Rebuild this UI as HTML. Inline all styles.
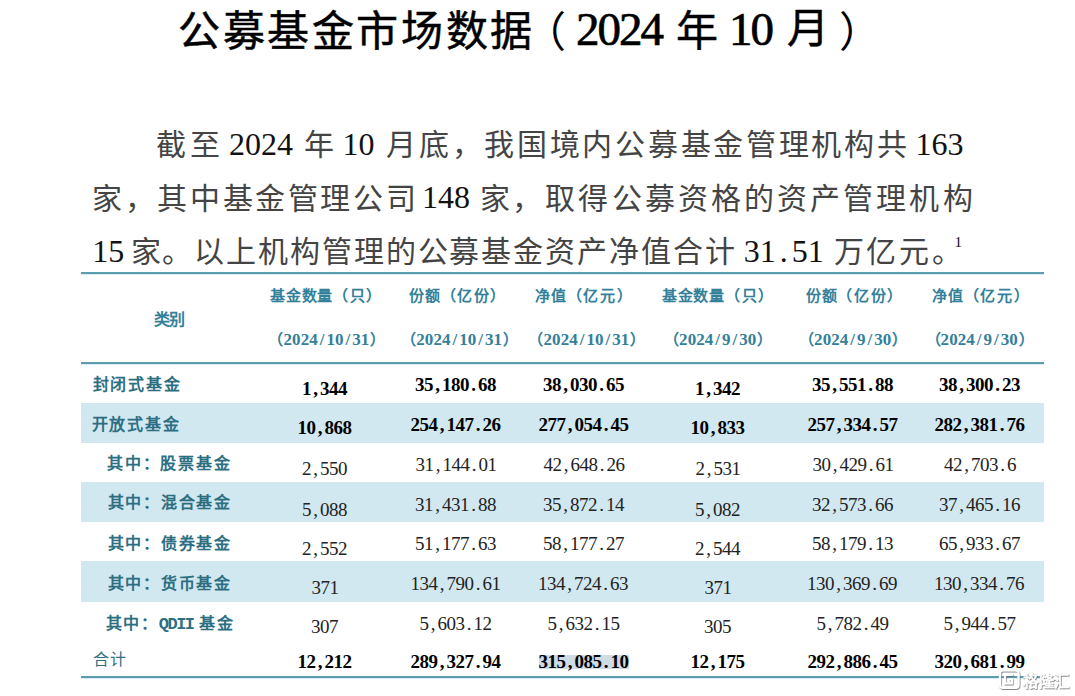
<!DOCTYPE html>
<html lang="zh-CN"><head><meta charset="utf-8"><title>公募基金市场数据</title>
<style>html,body{margin:0;padding:0;background:#fff;} body{width:1075px;height:696px;position:relative;overflow:hidden;}</style>
</head><body>
<div style="position:absolute;left:81px;top:403px;width:963px;height:40px;background:#d2e8f0"></div>
<div style="position:absolute;left:81px;top:482px;width:963px;height:40px;background:#d2e8f0"></div>
<div style="position:absolute;left:81px;top:561px;width:963px;height:41px;background:#d2e8f0"></div>
<div style="position:absolute;left:81px;top:272px;width:963px;height:2px;background:#5d9bb0;box-shadow:0 1px 0 #d6edf3"></div>
<div style="position:absolute;left:81px;top:362px;width:963px;height:2px;background:#5d9bb0;box-shadow:0 1px 0 #d6edf3"></div>
<div style="position:absolute;left:81px;top:676px;width:963px;height:2px;background:#5d9bb0;box-shadow:0 1px 0 #d6edf3"></div>
<div style="position:absolute;left:539px;top:655px;width:90px;height:14px;background:#d0dce4"></div>
<div style="position:absolute;left:178.0px;top:11.0px;font-family:'Liberation Serif', serif;font-size:42px;line-height:1;white-space:pre;font-weight:normal;color:#000;letter-spacing:2.6px;-webkit-text-stroke:0.5px #000;">公募基金市场数据</div>
<div style="position:absolute;left:524.0px;top:11.7px;font-family:'Liberation Serif', serif;font-size:42px;line-height:1;white-space:pre;font-weight:normal;color:#000;letter-spacing:0px;">（</div>
<div style="position:absolute;left:576.0px;top:5.8px;font-family:'Liberation Serif', serif;font-size:47px;line-height:1;white-space:pre;font-weight:normal;color:#000;letter-spacing:0px;-webkit-text-stroke:0.7px #000;"><i style="display:inline-block;width:21.5px;text-align:center;font-style:normal;letter-spacing:0;font-size:47px;font-weight:normal;">2</i><i style="display:inline-block;width:21.5px;text-align:center;font-style:normal;letter-spacing:0;font-size:47px;font-weight:normal;">0</i><i style="display:inline-block;width:21.5px;text-align:center;font-style:normal;letter-spacing:0;font-size:47px;font-weight:normal;">2</i><i style="display:inline-block;width:21.5px;text-align:center;font-style:normal;letter-spacing:0;font-size:47px;font-weight:normal;">4</i></div>
<div style="position:absolute;left:676.0px;top:11.0px;font-family:'Liberation Serif', serif;font-size:42px;line-height:1;white-space:pre;font-weight:normal;color:#000;letter-spacing:0px;-webkit-text-stroke:0.5px #000;">年</div>
<div style="position:absolute;left:729.0px;top:5.8px;font-family:'Liberation Serif', serif;font-size:47px;line-height:1;white-space:pre;font-weight:normal;color:#000;letter-spacing:0px;-webkit-text-stroke:0.7px #000;"><i style="display:inline-block;width:21.5px;text-align:center;font-style:normal;letter-spacing:0;font-size:47px;font-weight:normal;">1</i><i style="display:inline-block;width:21.5px;text-align:center;font-style:normal;letter-spacing:0;font-size:47px;font-weight:normal;">0</i></div>
<div style="position:absolute;left:787.0px;top:8.0px;font-family:'Liberation Serif', serif;font-size:42px;line-height:1;white-space:pre;font-weight:normal;color:#000;letter-spacing:0px;-webkit-text-stroke:0.5px #000;">月</div>
<div style="position:absolute;left:839.0px;top:11.7px;font-family:'Liberation Serif', serif;font-size:42px;line-height:1;white-space:pre;font-weight:normal;color:#000;letter-spacing:0px;">）</div>
<div style="position:absolute;left:156.4px;top:129.5px;font-family:'Liberation Serif', serif;font-size:30px;line-height:1;white-space:pre;font-weight:normal;color:#444;letter-spacing:3.3000000000000003px;">截至</div>
<div style="position:absolute;left:229.0px;top:128.0px;font-family:'Liberation Serif', serif;font-size:32px;line-height:1;white-space:pre;font-weight:normal;color:#000;letter-spacing:0px;"><i style="display:inline-block;width:16px;text-align:center;font-style:normal;letter-spacing:0;font-size:32px;color:#111;">2</i><i style="display:inline-block;width:16px;text-align:center;font-style:normal;letter-spacing:0;font-size:32px;color:#111;">0</i><i style="display:inline-block;width:16px;text-align:center;font-style:normal;letter-spacing:0;font-size:32px;color:#111;">2</i><i style="display:inline-block;width:16px;text-align:center;font-style:normal;letter-spacing:0;font-size:32px;color:#111;">4</i></div>
<div style="position:absolute;left:303.8px;top:129.6px;font-family:'Liberation Serif', serif;font-size:30px;line-height:1;white-space:pre;font-weight:normal;color:#444;letter-spacing:0px;">年</div>
<div style="position:absolute;left:342.4px;top:128.0px;font-family:'Liberation Serif', serif;font-size:32px;line-height:1;white-space:pre;font-weight:normal;color:#000;letter-spacing:0px;"><i style="display:inline-block;width:16px;text-align:center;font-style:normal;letter-spacing:0;font-size:32px;color:#111;">1</i><i style="display:inline-block;width:16px;text-align:center;font-style:normal;letter-spacing:0;font-size:32px;color:#111;">0</i></div>
<div style="position:absolute;left:386.3px;top:129.5px;font-family:'Liberation Serif', serif;font-size:30px;line-height:1;white-space:pre;font-weight:normal;color:#444;letter-spacing:2.7px;">月底，我国境内公募基金管理机构共</div>
<div style="position:absolute;left:915.5px;top:128.0px;font-family:'Liberation Serif', serif;font-size:32px;line-height:1;white-space:pre;font-weight:normal;color:#000;letter-spacing:0px;"><i style="display:inline-block;width:16px;text-align:center;font-style:normal;letter-spacing:0;font-size:32px;color:#111;">1</i><i style="display:inline-block;width:16px;text-align:center;font-style:normal;letter-spacing:0;font-size:32px;color:#111;">6</i><i style="display:inline-block;width:16px;text-align:center;font-style:normal;letter-spacing:0;font-size:32px;color:#111;">3</i></div>
<div style="position:absolute;left:92.2px;top:184.3px;font-family:'Liberation Serif', serif;font-size:30px;line-height:1;white-space:pre;font-weight:normal;color:#444;letter-spacing:2.6px;">家，其中基金管理公司</div>
<div style="position:absolute;left:422.0px;top:181.0px;font-family:'Liberation Serif', serif;font-size:32px;line-height:1;white-space:pre;font-weight:normal;color:#000;letter-spacing:0px;"><i style="display:inline-block;width:16px;text-align:center;font-style:normal;letter-spacing:0;font-size:32px;color:#111;">1</i><i style="display:inline-block;width:16px;text-align:center;font-style:normal;letter-spacing:0;font-size:32px;color:#111;">4</i><i style="display:inline-block;width:16px;text-align:center;font-style:normal;letter-spacing:0;font-size:32px;color:#111;">8</i></div>
<div style="position:absolute;left:480.0px;top:184.3px;font-family:'Liberation Serif', serif;font-size:30px;line-height:1;white-space:pre;font-weight:normal;color:#444;letter-spacing:2.2px;">家，</div>
<div style="position:absolute;left:545.4px;top:184.3px;font-family:'Liberation Serif', serif;font-size:30px;line-height:1;white-space:pre;font-weight:normal;color:#444;letter-spacing:3.1px;">取得公募资格的资产管理机构</div>
<div style="position:absolute;left:92.2px;top:235.3px;font-family:'Liberation Serif', serif;font-size:32px;line-height:1;white-space:pre;font-weight:normal;color:#000;letter-spacing:0px;"><i style="display:inline-block;width:16px;text-align:center;font-style:normal;letter-spacing:0;font-size:32px;color:#111;">1</i><i style="display:inline-block;width:16px;text-align:center;font-style:normal;letter-spacing:0;font-size:32px;color:#111;">5</i></div>
<div style="position:absolute;left:130.5px;top:236.5px;font-family:'Liberation Serif', serif;font-size:30px;line-height:1;white-space:pre;font-weight:normal;color:#444;letter-spacing:1.9000000000000001px;">家。以上机构管理的公募基金资产净值合计</div>
<div style="position:absolute;left:743.8px;top:235.3px;font-family:'Liberation Serif', serif;font-size:32px;line-height:1;white-space:pre;font-weight:normal;color:#000;letter-spacing:0px;"><i style="display:inline-block;width:16px;text-align:center;font-style:normal;letter-spacing:0;font-size:32px;color:#111;">3</i><i style="display:inline-block;width:16px;text-align:center;font-style:normal;letter-spacing:0;font-size:32px;color:#111;">1</i><i style="display:inline-block;width:16px;text-align:center;font-style:normal;letter-spacing:0;font-size:32px;color:#111;">.</i><i style="display:inline-block;width:16px;text-align:center;font-style:normal;letter-spacing:0;font-size:32px;color:#111;">5</i><i style="display:inline-block;width:16px;text-align:center;font-style:normal;letter-spacing:0;font-size:32px;color:#111;">1</i></div>
<div style="position:absolute;left:833.5px;top:236.5px;font-family:'Liberation Serif', serif;font-size:30px;line-height:1;white-space:pre;font-weight:normal;color:#444;letter-spacing:2.8000000000000003px;">万亿元。</div>
<div style="position:absolute;left:954.5px;top:234.8px;font-family:'Liberation Serif', serif;font-size:15px;line-height:1;white-space:pre;font-weight:normal;color:#111;letter-spacing:0px;">1</div>
<div style="position:absolute;left:154.0px;top:311.5px;font-family:'Liberation Serif', serif;font-size:16px;line-height:1;white-space:pre;font-weight:bold;color:#33809a;letter-spacing:-1px;">类别</div>
<div style="position:absolute;left:270.0px;top:289.4px;font-family:'Liberation Serif', serif;font-size:15px;line-height:1;white-space:pre;font-weight:bold;color:#33809a;letter-spacing:0.8px;">基金数量<span style="letter-spacing:1.6px">（只）</span></div>
<div style="position:absolute;left:268.4px;top:330.9px;font-family:'Liberation Serif', serif;font-size:15px;line-height:1;white-space:pre;font-weight:bold;color:#33809a;letter-spacing:0px;">（<i style="display:inline-block;width:8.6px;text-align:center;font-style:normal;letter-spacing:0;font-size:17px;font-weight:bold;">2</i><i style="display:inline-block;width:8.6px;text-align:center;font-style:normal;letter-spacing:0;font-size:17px;font-weight:bold;">0</i><i style="display:inline-block;width:8.6px;text-align:center;font-style:normal;letter-spacing:0;font-size:17px;font-weight:bold;">2</i><i style="display:inline-block;width:8.6px;text-align:center;font-style:normal;letter-spacing:0;font-size:17px;font-weight:bold;">4</i><i style="display:inline-block;width:8.6px;text-align:center;font-style:normal;letter-spacing:0;font-size:17px;font-weight:bold;">/</i><i style="display:inline-block;width:8.6px;text-align:center;font-style:normal;letter-spacing:0;font-size:17px;font-weight:bold;">1</i><i style="display:inline-block;width:8.6px;text-align:center;font-style:normal;letter-spacing:0;font-size:17px;font-weight:bold;">0</i><i style="display:inline-block;width:8.6px;text-align:center;font-style:normal;letter-spacing:0;font-size:17px;font-weight:bold;">/</i><i style="display:inline-block;width:8.6px;text-align:center;font-style:normal;letter-spacing:0;font-size:17px;font-weight:bold;">3</i><i style="display:inline-block;width:8.6px;text-align:center;font-style:normal;letter-spacing:0;font-size:17px;font-weight:bold;">1</i><span style="margin-left:1px">）</span></div>
<div style="position:absolute;left:409.0px;top:289.4px;font-family:'Liberation Serif', serif;font-size:15px;line-height:1;white-space:pre;font-weight:bold;color:#33809a;letter-spacing:0.8px;">份额<span style="letter-spacing:1.6px">（亿份）</span></div>
<div style="position:absolute;left:401.2px;top:330.9px;font-family:'Liberation Serif', serif;font-size:15px;line-height:1;white-space:pre;font-weight:bold;color:#33809a;letter-spacing:0px;">（<i style="display:inline-block;width:8.6px;text-align:center;font-style:normal;letter-spacing:0;font-size:17px;font-weight:bold;">2</i><i style="display:inline-block;width:8.6px;text-align:center;font-style:normal;letter-spacing:0;font-size:17px;font-weight:bold;">0</i><i style="display:inline-block;width:8.6px;text-align:center;font-style:normal;letter-spacing:0;font-size:17px;font-weight:bold;">2</i><i style="display:inline-block;width:8.6px;text-align:center;font-style:normal;letter-spacing:0;font-size:17px;font-weight:bold;">4</i><i style="display:inline-block;width:8.6px;text-align:center;font-style:normal;letter-spacing:0;font-size:17px;font-weight:bold;">/</i><i style="display:inline-block;width:8.6px;text-align:center;font-style:normal;letter-spacing:0;font-size:17px;font-weight:bold;">1</i><i style="display:inline-block;width:8.6px;text-align:center;font-style:normal;letter-spacing:0;font-size:17px;font-weight:bold;">0</i><i style="display:inline-block;width:8.6px;text-align:center;font-style:normal;letter-spacing:0;font-size:17px;font-weight:bold;">/</i><i style="display:inline-block;width:8.6px;text-align:center;font-style:normal;letter-spacing:0;font-size:17px;font-weight:bold;">3</i><i style="display:inline-block;width:8.6px;text-align:center;font-style:normal;letter-spacing:0;font-size:17px;font-weight:bold;">1</i><span style="margin-left:1px">）</span></div>
<div style="position:absolute;left:535.2px;top:289.4px;font-family:'Liberation Serif', serif;font-size:15px;line-height:1;white-space:pre;font-weight:bold;color:#33809a;letter-spacing:0.8px;">净值<span style="letter-spacing:1.6px">（亿元）</span></div>
<div style="position:absolute;left:528.4px;top:330.9px;font-family:'Liberation Serif', serif;font-size:15px;line-height:1;white-space:pre;font-weight:bold;color:#33809a;letter-spacing:0px;">（<i style="display:inline-block;width:8.6px;text-align:center;font-style:normal;letter-spacing:0;font-size:17px;font-weight:bold;">2</i><i style="display:inline-block;width:8.6px;text-align:center;font-style:normal;letter-spacing:0;font-size:17px;font-weight:bold;">0</i><i style="display:inline-block;width:8.6px;text-align:center;font-style:normal;letter-spacing:0;font-size:17px;font-weight:bold;">2</i><i style="display:inline-block;width:8.6px;text-align:center;font-style:normal;letter-spacing:0;font-size:17px;font-weight:bold;">4</i><i style="display:inline-block;width:8.6px;text-align:center;font-style:normal;letter-spacing:0;font-size:17px;font-weight:bold;">/</i><i style="display:inline-block;width:8.6px;text-align:center;font-style:normal;letter-spacing:0;font-size:17px;font-weight:bold;">1</i><i style="display:inline-block;width:8.6px;text-align:center;font-style:normal;letter-spacing:0;font-size:17px;font-weight:bold;">0</i><i style="display:inline-block;width:8.6px;text-align:center;font-style:normal;letter-spacing:0;font-size:17px;font-weight:bold;">/</i><i style="display:inline-block;width:8.6px;text-align:center;font-style:normal;letter-spacing:0;font-size:17px;font-weight:bold;">3</i><i style="display:inline-block;width:8.6px;text-align:center;font-style:normal;letter-spacing:0;font-size:17px;font-weight:bold;">1</i><span style="margin-left:1px">）</span></div>
<div style="position:absolute;left:661.8px;top:289.4px;font-family:'Liberation Serif', serif;font-size:15px;line-height:1;white-space:pre;font-weight:bold;color:#33809a;letter-spacing:0.8px;">基金数量<span style="letter-spacing:1.6px">（只）</span></div>
<div style="position:absolute;left:664.0px;top:330.9px;font-family:'Liberation Serif', serif;font-size:15px;line-height:1;white-space:pre;font-weight:bold;color:#33809a;letter-spacing:0px;">（<i style="display:inline-block;width:8.6px;text-align:center;font-style:normal;letter-spacing:0;font-size:17px;font-weight:bold;">2</i><i style="display:inline-block;width:8.6px;text-align:center;font-style:normal;letter-spacing:0;font-size:17px;font-weight:bold;">0</i><i style="display:inline-block;width:8.6px;text-align:center;font-style:normal;letter-spacing:0;font-size:17px;font-weight:bold;">2</i><i style="display:inline-block;width:8.6px;text-align:center;font-style:normal;letter-spacing:0;font-size:17px;font-weight:bold;">4</i><i style="display:inline-block;width:8.6px;text-align:center;font-style:normal;letter-spacing:0;font-size:17px;font-weight:bold;">/</i><i style="display:inline-block;width:8.6px;text-align:center;font-style:normal;letter-spacing:0;font-size:17px;font-weight:bold;">9</i><i style="display:inline-block;width:8.6px;text-align:center;font-style:normal;letter-spacing:0;font-size:17px;font-weight:bold;">/</i><i style="display:inline-block;width:8.6px;text-align:center;font-style:normal;letter-spacing:0;font-size:17px;font-weight:bold;">3</i><i style="display:inline-block;width:8.6px;text-align:center;font-style:normal;letter-spacing:0;font-size:17px;font-weight:bold;">0</i><span style="margin-left:1px">）</span></div>
<div style="position:absolute;left:805.8px;top:289.4px;font-family:'Liberation Serif', serif;font-size:15px;line-height:1;white-space:pre;font-weight:bold;color:#33809a;letter-spacing:0.8px;">份额<span style="letter-spacing:1.6px">（亿份）</span></div>
<div style="position:absolute;left:799.0px;top:330.9px;font-family:'Liberation Serif', serif;font-size:15px;line-height:1;white-space:pre;font-weight:bold;color:#33809a;letter-spacing:0px;">（<i style="display:inline-block;width:8.6px;text-align:center;font-style:normal;letter-spacing:0;font-size:17px;font-weight:bold;">2</i><i style="display:inline-block;width:8.6px;text-align:center;font-style:normal;letter-spacing:0;font-size:17px;font-weight:bold;">0</i><i style="display:inline-block;width:8.6px;text-align:center;font-style:normal;letter-spacing:0;font-size:17px;font-weight:bold;">2</i><i style="display:inline-block;width:8.6px;text-align:center;font-style:normal;letter-spacing:0;font-size:17px;font-weight:bold;">4</i><i style="display:inline-block;width:8.6px;text-align:center;font-style:normal;letter-spacing:0;font-size:17px;font-weight:bold;">/</i><i style="display:inline-block;width:8.6px;text-align:center;font-style:normal;letter-spacing:0;font-size:17px;font-weight:bold;">9</i><i style="display:inline-block;width:8.6px;text-align:center;font-style:normal;letter-spacing:0;font-size:17px;font-weight:bold;">/</i><i style="display:inline-block;width:8.6px;text-align:center;font-style:normal;letter-spacing:0;font-size:17px;font-weight:bold;">3</i><i style="display:inline-block;width:8.6px;text-align:center;font-style:normal;letter-spacing:0;font-size:17px;font-weight:bold;">0</i><span style="margin-left:1px">）</span></div>
<div style="position:absolute;left:932.2px;top:289.4px;font-family:'Liberation Serif', serif;font-size:15px;line-height:1;white-space:pre;font-weight:bold;color:#33809a;letter-spacing:0.8px;">净值<span style="letter-spacing:1.6px">（亿元）</span></div>
<div style="position:absolute;left:925.5px;top:330.9px;font-family:'Liberation Serif', serif;font-size:15px;line-height:1;white-space:pre;font-weight:bold;color:#33809a;letter-spacing:0px;">（<i style="display:inline-block;width:8.6px;text-align:center;font-style:normal;letter-spacing:0;font-size:17px;font-weight:bold;">2</i><i style="display:inline-block;width:8.6px;text-align:center;font-style:normal;letter-spacing:0;font-size:17px;font-weight:bold;">0</i><i style="display:inline-block;width:8.6px;text-align:center;font-style:normal;letter-spacing:0;font-size:17px;font-weight:bold;">2</i><i style="display:inline-block;width:8.6px;text-align:center;font-style:normal;letter-spacing:0;font-size:17px;font-weight:bold;">4</i><i style="display:inline-block;width:8.6px;text-align:center;font-style:normal;letter-spacing:0;font-size:17px;font-weight:bold;">/</i><i style="display:inline-block;width:8.6px;text-align:center;font-style:normal;letter-spacing:0;font-size:17px;font-weight:bold;">9</i><i style="display:inline-block;width:8.6px;text-align:center;font-style:normal;letter-spacing:0;font-size:17px;font-weight:bold;">/</i><i style="display:inline-block;width:8.6px;text-align:center;font-style:normal;letter-spacing:0;font-size:17px;font-weight:bold;">3</i><i style="display:inline-block;width:8.6px;text-align:center;font-style:normal;letter-spacing:0;font-size:17px;font-weight:bold;">0</i><span style="margin-left:1px">）</span></div>
<div style="position:absolute;left:92.5px;top:377.0px;font-family:'Liberation Serif', serif;font-size:16px;line-height:1;white-space:pre;font-weight:bold;color:#2d6f82;letter-spacing:1.75px;">封闭式基金</div>
<div style="position:absolute;left:91.5px;top:417.0px;font-family:'Liberation Serif', serif;font-size:16px;line-height:1;white-space:pre;font-weight:bold;color:#2d6f82;letter-spacing:1.75px;">开放式基金</div>
<div style="position:absolute;left:107.0px;top:456.0px;font-family:'Liberation Serif', serif;font-size:16px;line-height:1;white-space:pre;font-weight:bold;color:#2d6f82;letter-spacing:1.75px;">其中：股票基金</div>
<div style="position:absolute;left:107.6px;top:495.0px;font-family:'Liberation Serif', serif;font-size:16px;line-height:1;white-space:pre;font-weight:bold;color:#2d6f82;letter-spacing:1.75px;">其中：混合基金</div>
<div style="position:absolute;left:107.6px;top:536.0px;font-family:'Liberation Serif', serif;font-size:16px;line-height:1;white-space:pre;font-weight:bold;color:#2d6f82;letter-spacing:1.75px;">其中：债券基金</div>
<div style="position:absolute;left:107.6px;top:576.0px;font-family:'Liberation Serif', serif;font-size:16px;line-height:1;white-space:pre;font-weight:bold;color:#2d6f82;letter-spacing:1.75px;">其中：货币基金</div>
<div style="position:absolute;left:105.5px;top:616.0px;font-family:'Liberation Serif', serif;font-size:16px;line-height:1;white-space:pre;font-weight:bold;color:#2d6f82;letter-spacing:1.75px;">其中：<span style="font-family:'Liberation Mono', monospace;font-size:17px;letter-spacing:-1.5px">QDII</span> 基金</div>
<div style="position:absolute;left:92.6px;top:652.0px;font-family:'Liberation Serif', serif;font-size:16px;line-height:1;white-space:pre;font-weight:normal;color:#2d6f82;letter-spacing:1.75px;">合计</div>
<div style="position:absolute;left:302.0px;top:379.0px;font-family:'Liberation Serif', serif;font-size:19px;line-height:1;white-space:pre;font-weight:bold;color:#000;letter-spacing:0px;"><i style="display:inline-block;width:9px;text-align:center;font-style:normal;letter-spacing:0;">1</i><i style="display:inline-block;width:9px;text-align:center;font-style:normal;letter-spacing:0;">,</i><i style="display:inline-block;width:9px;text-align:center;font-style:normal;letter-spacing:0;">3</i><i style="display:inline-block;width:9px;text-align:center;font-style:normal;letter-spacing:0;">4</i><i style="display:inline-block;width:9px;text-align:center;font-style:normal;letter-spacing:0;">4</i></div>
<div style="position:absolute;left:415.0px;top:375.0px;font-family:'Liberation Serif', serif;font-size:19px;line-height:1;white-space:pre;font-weight:bold;color:#000;letter-spacing:0px;"><i style="display:inline-block;width:9px;text-align:center;font-style:normal;letter-spacing:0;">3</i><i style="display:inline-block;width:9px;text-align:center;font-style:normal;letter-spacing:0;">5</i><i style="display:inline-block;width:9px;text-align:center;font-style:normal;letter-spacing:0;">,</i><i style="display:inline-block;width:9px;text-align:center;font-style:normal;letter-spacing:0;">1</i><i style="display:inline-block;width:9px;text-align:center;font-style:normal;letter-spacing:0;">8</i><i style="display:inline-block;width:9px;text-align:center;font-style:normal;letter-spacing:0;">0</i><i style="display:inline-block;width:9px;text-align:center;font-style:normal;letter-spacing:0;">.</i><i style="display:inline-block;width:9px;text-align:center;font-style:normal;letter-spacing:0;">6</i><i style="display:inline-block;width:9px;text-align:center;font-style:normal;letter-spacing:0;">8</i></div>
<div style="position:absolute;left:543.0px;top:375.0px;font-family:'Liberation Serif', serif;font-size:19px;line-height:1;white-space:pre;font-weight:bold;color:#000;letter-spacing:0px;"><i style="display:inline-block;width:9px;text-align:center;font-style:normal;letter-spacing:0;">3</i><i style="display:inline-block;width:9px;text-align:center;font-style:normal;letter-spacing:0;">8</i><i style="display:inline-block;width:9px;text-align:center;font-style:normal;letter-spacing:0;">,</i><i style="display:inline-block;width:9px;text-align:center;font-style:normal;letter-spacing:0;">0</i><i style="display:inline-block;width:9px;text-align:center;font-style:normal;letter-spacing:0;">3</i><i style="display:inline-block;width:9px;text-align:center;font-style:normal;letter-spacing:0;">0</i><i style="display:inline-block;width:9px;text-align:center;font-style:normal;letter-spacing:0;">.</i><i style="display:inline-block;width:9px;text-align:center;font-style:normal;letter-spacing:0;">6</i><i style="display:inline-block;width:9px;text-align:center;font-style:normal;letter-spacing:0;">5</i></div>
<div style="position:absolute;left:695.0px;top:379.0px;font-family:'Liberation Serif', serif;font-size:19px;line-height:1;white-space:pre;font-weight:bold;color:#000;letter-spacing:0px;"><i style="display:inline-block;width:9px;text-align:center;font-style:normal;letter-spacing:0;">1</i><i style="display:inline-block;width:9px;text-align:center;font-style:normal;letter-spacing:0;">,</i><i style="display:inline-block;width:9px;text-align:center;font-style:normal;letter-spacing:0;">3</i><i style="display:inline-block;width:9px;text-align:center;font-style:normal;letter-spacing:0;">4</i><i style="display:inline-block;width:9px;text-align:center;font-style:normal;letter-spacing:0;">2</i></div>
<div style="position:absolute;left:812.0px;top:375.0px;font-family:'Liberation Serif', serif;font-size:19px;line-height:1;white-space:pre;font-weight:bold;color:#000;letter-spacing:0px;"><i style="display:inline-block;width:9px;text-align:center;font-style:normal;letter-spacing:0;">3</i><i style="display:inline-block;width:9px;text-align:center;font-style:normal;letter-spacing:0;">5</i><i style="display:inline-block;width:9px;text-align:center;font-style:normal;letter-spacing:0;">,</i><i style="display:inline-block;width:9px;text-align:center;font-style:normal;letter-spacing:0;">5</i><i style="display:inline-block;width:9px;text-align:center;font-style:normal;letter-spacing:0;">5</i><i style="display:inline-block;width:9px;text-align:center;font-style:normal;letter-spacing:0;">1</i><i style="display:inline-block;width:9px;text-align:center;font-style:normal;letter-spacing:0;">.</i><i style="display:inline-block;width:9px;text-align:center;font-style:normal;letter-spacing:0;">8</i><i style="display:inline-block;width:9px;text-align:center;font-style:normal;letter-spacing:0;">8</i></div>
<div style="position:absolute;left:939.0px;top:375.0px;font-family:'Liberation Serif', serif;font-size:19px;line-height:1;white-space:pre;font-weight:bold;color:#000;letter-spacing:0px;"><i style="display:inline-block;width:9px;text-align:center;font-style:normal;letter-spacing:0;">3</i><i style="display:inline-block;width:9px;text-align:center;font-style:normal;letter-spacing:0;">8</i><i style="display:inline-block;width:9px;text-align:center;font-style:normal;letter-spacing:0;">,</i><i style="display:inline-block;width:9px;text-align:center;font-style:normal;letter-spacing:0;">3</i><i style="display:inline-block;width:9px;text-align:center;font-style:normal;letter-spacing:0;">0</i><i style="display:inline-block;width:9px;text-align:center;font-style:normal;letter-spacing:0;">0</i><i style="display:inline-block;width:9px;text-align:center;font-style:normal;letter-spacing:0;">.</i><i style="display:inline-block;width:9px;text-align:center;font-style:normal;letter-spacing:0;">2</i><i style="display:inline-block;width:9px;text-align:center;font-style:normal;letter-spacing:0;">3</i></div>
<div style="position:absolute;left:297.5px;top:418.0px;font-family:'Liberation Serif', serif;font-size:19px;line-height:1;white-space:pre;font-weight:bold;color:#000;letter-spacing:0px;"><i style="display:inline-block;width:9px;text-align:center;font-style:normal;letter-spacing:0;">1</i><i style="display:inline-block;width:9px;text-align:center;font-style:normal;letter-spacing:0;">0</i><i style="display:inline-block;width:9px;text-align:center;font-style:normal;letter-spacing:0;">,</i><i style="display:inline-block;width:9px;text-align:center;font-style:normal;letter-spacing:0;">8</i><i style="display:inline-block;width:9px;text-align:center;font-style:normal;letter-spacing:0;">6</i><i style="display:inline-block;width:9px;text-align:center;font-style:normal;letter-spacing:0;">8</i></div>
<div style="position:absolute;left:410.5px;top:414.5px;font-family:'Liberation Serif', serif;font-size:19px;line-height:1;white-space:pre;font-weight:bold;color:#000;letter-spacing:0px;"><i style="display:inline-block;width:9px;text-align:center;font-style:normal;letter-spacing:0;">2</i><i style="display:inline-block;width:9px;text-align:center;font-style:normal;letter-spacing:0;">5</i><i style="display:inline-block;width:9px;text-align:center;font-style:normal;letter-spacing:0;">4</i><i style="display:inline-block;width:9px;text-align:center;font-style:normal;letter-spacing:0;">,</i><i style="display:inline-block;width:9px;text-align:center;font-style:normal;letter-spacing:0;">1</i><i style="display:inline-block;width:9px;text-align:center;font-style:normal;letter-spacing:0;">4</i><i style="display:inline-block;width:9px;text-align:center;font-style:normal;letter-spacing:0;">7</i><i style="display:inline-block;width:9px;text-align:center;font-style:normal;letter-spacing:0;">.</i><i style="display:inline-block;width:9px;text-align:center;font-style:normal;letter-spacing:0;">2</i><i style="display:inline-block;width:9px;text-align:center;font-style:normal;letter-spacing:0;">6</i></div>
<div style="position:absolute;left:538.5px;top:414.5px;font-family:'Liberation Serif', serif;font-size:19px;line-height:1;white-space:pre;font-weight:bold;color:#000;letter-spacing:0px;"><i style="display:inline-block;width:9px;text-align:center;font-style:normal;letter-spacing:0;">2</i><i style="display:inline-block;width:9px;text-align:center;font-style:normal;letter-spacing:0;">7</i><i style="display:inline-block;width:9px;text-align:center;font-style:normal;letter-spacing:0;">7</i><i style="display:inline-block;width:9px;text-align:center;font-style:normal;letter-spacing:0;">,</i><i style="display:inline-block;width:9px;text-align:center;font-style:normal;letter-spacing:0;">0</i><i style="display:inline-block;width:9px;text-align:center;font-style:normal;letter-spacing:0;">5</i><i style="display:inline-block;width:9px;text-align:center;font-style:normal;letter-spacing:0;">4</i><i style="display:inline-block;width:9px;text-align:center;font-style:normal;letter-spacing:0;">.</i><i style="display:inline-block;width:9px;text-align:center;font-style:normal;letter-spacing:0;">4</i><i style="display:inline-block;width:9px;text-align:center;font-style:normal;letter-spacing:0;">5</i></div>
<div style="position:absolute;left:690.5px;top:418.0px;font-family:'Liberation Serif', serif;font-size:19px;line-height:1;white-space:pre;font-weight:bold;color:#000;letter-spacing:0px;"><i style="display:inline-block;width:9px;text-align:center;font-style:normal;letter-spacing:0;">1</i><i style="display:inline-block;width:9px;text-align:center;font-style:normal;letter-spacing:0;">0</i><i style="display:inline-block;width:9px;text-align:center;font-style:normal;letter-spacing:0;">,</i><i style="display:inline-block;width:9px;text-align:center;font-style:normal;letter-spacing:0;">8</i><i style="display:inline-block;width:9px;text-align:center;font-style:normal;letter-spacing:0;">3</i><i style="display:inline-block;width:9px;text-align:center;font-style:normal;letter-spacing:0;">3</i></div>
<div style="position:absolute;left:807.5px;top:414.5px;font-family:'Liberation Serif', serif;font-size:19px;line-height:1;white-space:pre;font-weight:bold;color:#000;letter-spacing:0px;"><i style="display:inline-block;width:9px;text-align:center;font-style:normal;letter-spacing:0;">2</i><i style="display:inline-block;width:9px;text-align:center;font-style:normal;letter-spacing:0;">5</i><i style="display:inline-block;width:9px;text-align:center;font-style:normal;letter-spacing:0;">7</i><i style="display:inline-block;width:9px;text-align:center;font-style:normal;letter-spacing:0;">,</i><i style="display:inline-block;width:9px;text-align:center;font-style:normal;letter-spacing:0;">3</i><i style="display:inline-block;width:9px;text-align:center;font-style:normal;letter-spacing:0;">3</i><i style="display:inline-block;width:9px;text-align:center;font-style:normal;letter-spacing:0;">4</i><i style="display:inline-block;width:9px;text-align:center;font-style:normal;letter-spacing:0;">.</i><i style="display:inline-block;width:9px;text-align:center;font-style:normal;letter-spacing:0;">5</i><i style="display:inline-block;width:9px;text-align:center;font-style:normal;letter-spacing:0;">7</i></div>
<div style="position:absolute;left:934.5px;top:414.5px;font-family:'Liberation Serif', serif;font-size:19px;line-height:1;white-space:pre;font-weight:bold;color:#000;letter-spacing:0px;"><i style="display:inline-block;width:9px;text-align:center;font-style:normal;letter-spacing:0;">2</i><i style="display:inline-block;width:9px;text-align:center;font-style:normal;letter-spacing:0;">8</i><i style="display:inline-block;width:9px;text-align:center;font-style:normal;letter-spacing:0;">2</i><i style="display:inline-block;width:9px;text-align:center;font-style:normal;letter-spacing:0;">,</i><i style="display:inline-block;width:9px;text-align:center;font-style:normal;letter-spacing:0;">3</i><i style="display:inline-block;width:9px;text-align:center;font-style:normal;letter-spacing:0;">8</i><i style="display:inline-block;width:9px;text-align:center;font-style:normal;letter-spacing:0;">1</i><i style="display:inline-block;width:9px;text-align:center;font-style:normal;letter-spacing:0;">.</i><i style="display:inline-block;width:9px;text-align:center;font-style:normal;letter-spacing:0;">7</i><i style="display:inline-block;width:9px;text-align:center;font-style:normal;letter-spacing:0;">6</i></div>
<div style="position:absolute;left:302.0px;top:458.7px;font-family:'Liberation Serif', serif;font-size:19px;line-height:1;white-space:pre;font-weight:normal;color:#222;letter-spacing:0px;"><i style="display:inline-block;width:9px;text-align:center;font-style:normal;letter-spacing:0;">2</i><i style="display:inline-block;width:9px;text-align:center;font-style:normal;letter-spacing:0;">,</i><i style="display:inline-block;width:9px;text-align:center;font-style:normal;letter-spacing:0;">5</i><i style="display:inline-block;width:9px;text-align:center;font-style:normal;letter-spacing:0;">5</i><i style="display:inline-block;width:9px;text-align:center;font-style:normal;letter-spacing:0;">0</i></div>
<div style="position:absolute;left:415.5px;top:454.5px;font-family:'Liberation Serif', serif;font-size:19px;line-height:1;white-space:pre;font-weight:normal;color:#222;letter-spacing:0px;"><i style="display:inline-block;width:9px;text-align:center;font-style:normal;letter-spacing:0;">3</i><i style="display:inline-block;width:9px;text-align:center;font-style:normal;letter-spacing:0;">1</i><i style="display:inline-block;width:9px;text-align:center;font-style:normal;letter-spacing:0;">,</i><i style="display:inline-block;width:9px;text-align:center;font-style:normal;letter-spacing:0;">1</i><i style="display:inline-block;width:9px;text-align:center;font-style:normal;letter-spacing:0;">4</i><i style="display:inline-block;width:9px;text-align:center;font-style:normal;letter-spacing:0;">4</i><i style="display:inline-block;width:9px;text-align:center;font-style:normal;letter-spacing:0;">.</i><i style="display:inline-block;width:9px;text-align:center;font-style:normal;letter-spacing:0;">0</i><i style="display:inline-block;width:9px;text-align:center;font-style:normal;letter-spacing:0;">1</i></div>
<div style="position:absolute;left:543.5px;top:454.5px;font-family:'Liberation Serif', serif;font-size:19px;line-height:1;white-space:pre;font-weight:normal;color:#222;letter-spacing:0px;"><i style="display:inline-block;width:9px;text-align:center;font-style:normal;letter-spacing:0;">4</i><i style="display:inline-block;width:9px;text-align:center;font-style:normal;letter-spacing:0;">2</i><i style="display:inline-block;width:9px;text-align:center;font-style:normal;letter-spacing:0;">,</i><i style="display:inline-block;width:9px;text-align:center;font-style:normal;letter-spacing:0;">6</i><i style="display:inline-block;width:9px;text-align:center;font-style:normal;letter-spacing:0;">4</i><i style="display:inline-block;width:9px;text-align:center;font-style:normal;letter-spacing:0;">8</i><i style="display:inline-block;width:9px;text-align:center;font-style:normal;letter-spacing:0;">.</i><i style="display:inline-block;width:9px;text-align:center;font-style:normal;letter-spacing:0;">2</i><i style="display:inline-block;width:9px;text-align:center;font-style:normal;letter-spacing:0;">6</i></div>
<div style="position:absolute;left:695.5px;top:458.7px;font-family:'Liberation Serif', serif;font-size:19px;line-height:1;white-space:pre;font-weight:normal;color:#222;letter-spacing:0px;"><i style="display:inline-block;width:9px;text-align:center;font-style:normal;letter-spacing:0;">2</i><i style="display:inline-block;width:9px;text-align:center;font-style:normal;letter-spacing:0;">,</i><i style="display:inline-block;width:9px;text-align:center;font-style:normal;letter-spacing:0;">5</i><i style="display:inline-block;width:9px;text-align:center;font-style:normal;letter-spacing:0;">3</i><i style="display:inline-block;width:9px;text-align:center;font-style:normal;letter-spacing:0;">1</i></div>
<div style="position:absolute;left:812.5px;top:454.5px;font-family:'Liberation Serif', serif;font-size:19px;line-height:1;white-space:pre;font-weight:normal;color:#222;letter-spacing:0px;"><i style="display:inline-block;width:9px;text-align:center;font-style:normal;letter-spacing:0;">3</i><i style="display:inline-block;width:9px;text-align:center;font-style:normal;letter-spacing:0;">0</i><i style="display:inline-block;width:9px;text-align:center;font-style:normal;letter-spacing:0;">,</i><i style="display:inline-block;width:9px;text-align:center;font-style:normal;letter-spacing:0;">4</i><i style="display:inline-block;width:9px;text-align:center;font-style:normal;letter-spacing:0;">2</i><i style="display:inline-block;width:9px;text-align:center;font-style:normal;letter-spacing:0;">9</i><i style="display:inline-block;width:9px;text-align:center;font-style:normal;letter-spacing:0;">.</i><i style="display:inline-block;width:9px;text-align:center;font-style:normal;letter-spacing:0;">6</i><i style="display:inline-block;width:9px;text-align:center;font-style:normal;letter-spacing:0;">1</i></div>
<div style="position:absolute;left:944.0px;top:454.5px;font-family:'Liberation Serif', serif;font-size:19px;line-height:1;white-space:pre;font-weight:normal;color:#222;letter-spacing:0px;"><i style="display:inline-block;width:9px;text-align:center;font-style:normal;letter-spacing:0;">4</i><i style="display:inline-block;width:9px;text-align:center;font-style:normal;letter-spacing:0;">2</i><i style="display:inline-block;width:9px;text-align:center;font-style:normal;letter-spacing:0;">,</i><i style="display:inline-block;width:9px;text-align:center;font-style:normal;letter-spacing:0;">7</i><i style="display:inline-block;width:9px;text-align:center;font-style:normal;letter-spacing:0;">0</i><i style="display:inline-block;width:9px;text-align:center;font-style:normal;letter-spacing:0;">3</i><i style="display:inline-block;width:9px;text-align:center;font-style:normal;letter-spacing:0;">.</i><i style="display:inline-block;width:9px;text-align:center;font-style:normal;letter-spacing:0;">6</i></div>
<div style="position:absolute;left:302.0px;top:499.6px;font-family:'Liberation Serif', serif;font-size:19px;line-height:1;white-space:pre;font-weight:normal;color:#222;letter-spacing:0px;"><i style="display:inline-block;width:9px;text-align:center;font-style:normal;letter-spacing:0;">5</i><i style="display:inline-block;width:9px;text-align:center;font-style:normal;letter-spacing:0;">,</i><i style="display:inline-block;width:9px;text-align:center;font-style:normal;letter-spacing:0;">0</i><i style="display:inline-block;width:9px;text-align:center;font-style:normal;letter-spacing:0;">8</i><i style="display:inline-block;width:9px;text-align:center;font-style:normal;letter-spacing:0;">8</i></div>
<div style="position:absolute;left:415.0px;top:495.0px;font-family:'Liberation Serif', serif;font-size:19px;line-height:1;white-space:pre;font-weight:normal;color:#222;letter-spacing:0px;"><i style="display:inline-block;width:9px;text-align:center;font-style:normal;letter-spacing:0;">3</i><i style="display:inline-block;width:9px;text-align:center;font-style:normal;letter-spacing:0;">1</i><i style="display:inline-block;width:9px;text-align:center;font-style:normal;letter-spacing:0;">,</i><i style="display:inline-block;width:9px;text-align:center;font-style:normal;letter-spacing:0;">4</i><i style="display:inline-block;width:9px;text-align:center;font-style:normal;letter-spacing:0;">3</i><i style="display:inline-block;width:9px;text-align:center;font-style:normal;letter-spacing:0;">1</i><i style="display:inline-block;width:9px;text-align:center;font-style:normal;letter-spacing:0;">.</i><i style="display:inline-block;width:9px;text-align:center;font-style:normal;letter-spacing:0;">8</i><i style="display:inline-block;width:9px;text-align:center;font-style:normal;letter-spacing:0;">8</i></div>
<div style="position:absolute;left:543.0px;top:495.0px;font-family:'Liberation Serif', serif;font-size:19px;line-height:1;white-space:pre;font-weight:normal;color:#222;letter-spacing:0px;"><i style="display:inline-block;width:9px;text-align:center;font-style:normal;letter-spacing:0;">3</i><i style="display:inline-block;width:9px;text-align:center;font-style:normal;letter-spacing:0;">5</i><i style="display:inline-block;width:9px;text-align:center;font-style:normal;letter-spacing:0;">,</i><i style="display:inline-block;width:9px;text-align:center;font-style:normal;letter-spacing:0;">8</i><i style="display:inline-block;width:9px;text-align:center;font-style:normal;letter-spacing:0;">7</i><i style="display:inline-block;width:9px;text-align:center;font-style:normal;letter-spacing:0;">2</i><i style="display:inline-block;width:9px;text-align:center;font-style:normal;letter-spacing:0;">.</i><i style="display:inline-block;width:9px;text-align:center;font-style:normal;letter-spacing:0;">1</i><i style="display:inline-block;width:9px;text-align:center;font-style:normal;letter-spacing:0;">4</i></div>
<div style="position:absolute;left:695.0px;top:499.6px;font-family:'Liberation Serif', serif;font-size:19px;line-height:1;white-space:pre;font-weight:normal;color:#222;letter-spacing:0px;"><i style="display:inline-block;width:9px;text-align:center;font-style:normal;letter-spacing:0;">5</i><i style="display:inline-block;width:9px;text-align:center;font-style:normal;letter-spacing:0;">,</i><i style="display:inline-block;width:9px;text-align:center;font-style:normal;letter-spacing:0;">0</i><i style="display:inline-block;width:9px;text-align:center;font-style:normal;letter-spacing:0;">8</i><i style="display:inline-block;width:9px;text-align:center;font-style:normal;letter-spacing:0;">2</i></div>
<div style="position:absolute;left:812.0px;top:495.0px;font-family:'Liberation Serif', serif;font-size:19px;line-height:1;white-space:pre;font-weight:normal;color:#222;letter-spacing:0px;"><i style="display:inline-block;width:9px;text-align:center;font-style:normal;letter-spacing:0;">3</i><i style="display:inline-block;width:9px;text-align:center;font-style:normal;letter-spacing:0;">2</i><i style="display:inline-block;width:9px;text-align:center;font-style:normal;letter-spacing:0;">,</i><i style="display:inline-block;width:9px;text-align:center;font-style:normal;letter-spacing:0;">5</i><i style="display:inline-block;width:9px;text-align:center;font-style:normal;letter-spacing:0;">7</i><i style="display:inline-block;width:9px;text-align:center;font-style:normal;letter-spacing:0;">3</i><i style="display:inline-block;width:9px;text-align:center;font-style:normal;letter-spacing:0;">.</i><i style="display:inline-block;width:9px;text-align:center;font-style:normal;letter-spacing:0;">6</i><i style="display:inline-block;width:9px;text-align:center;font-style:normal;letter-spacing:0;">6</i></div>
<div style="position:absolute;left:939.0px;top:495.0px;font-family:'Liberation Serif', serif;font-size:19px;line-height:1;white-space:pre;font-weight:normal;color:#222;letter-spacing:0px;"><i style="display:inline-block;width:9px;text-align:center;font-style:normal;letter-spacing:0;">3</i><i style="display:inline-block;width:9px;text-align:center;font-style:normal;letter-spacing:0;">7</i><i style="display:inline-block;width:9px;text-align:center;font-style:normal;letter-spacing:0;">,</i><i style="display:inline-block;width:9px;text-align:center;font-style:normal;letter-spacing:0;">4</i><i style="display:inline-block;width:9px;text-align:center;font-style:normal;letter-spacing:0;">6</i><i style="display:inline-block;width:9px;text-align:center;font-style:normal;letter-spacing:0;">5</i><i style="display:inline-block;width:9px;text-align:center;font-style:normal;letter-spacing:0;">.</i><i style="display:inline-block;width:9px;text-align:center;font-style:normal;letter-spacing:0;">1</i><i style="display:inline-block;width:9px;text-align:center;font-style:normal;letter-spacing:0;">6</i></div>
<div style="position:absolute;left:302.0px;top:538.8px;font-family:'Liberation Serif', serif;font-size:19px;line-height:1;white-space:pre;font-weight:normal;color:#222;letter-spacing:0px;"><i style="display:inline-block;width:9px;text-align:center;font-style:normal;letter-spacing:0;">2</i><i style="display:inline-block;width:9px;text-align:center;font-style:normal;letter-spacing:0;">,</i><i style="display:inline-block;width:9px;text-align:center;font-style:normal;letter-spacing:0;">5</i><i style="display:inline-block;width:9px;text-align:center;font-style:normal;letter-spacing:0;">5</i><i style="display:inline-block;width:9px;text-align:center;font-style:normal;letter-spacing:0;">2</i></div>
<div style="position:absolute;left:415.0px;top:534.3px;font-family:'Liberation Serif', serif;font-size:19px;line-height:1;white-space:pre;font-weight:normal;color:#222;letter-spacing:0px;"><i style="display:inline-block;width:9px;text-align:center;font-style:normal;letter-spacing:0;">5</i><i style="display:inline-block;width:9px;text-align:center;font-style:normal;letter-spacing:0;">1</i><i style="display:inline-block;width:9px;text-align:center;font-style:normal;letter-spacing:0;">,</i><i style="display:inline-block;width:9px;text-align:center;font-style:normal;letter-spacing:0;">1</i><i style="display:inline-block;width:9px;text-align:center;font-style:normal;letter-spacing:0;">7</i><i style="display:inline-block;width:9px;text-align:center;font-style:normal;letter-spacing:0;">7</i><i style="display:inline-block;width:9px;text-align:center;font-style:normal;letter-spacing:0;">.</i><i style="display:inline-block;width:9px;text-align:center;font-style:normal;letter-spacing:0;">6</i><i style="display:inline-block;width:9px;text-align:center;font-style:normal;letter-spacing:0;">3</i></div>
<div style="position:absolute;left:543.0px;top:534.3px;font-family:'Liberation Serif', serif;font-size:19px;line-height:1;white-space:pre;font-weight:normal;color:#222;letter-spacing:0px;"><i style="display:inline-block;width:9px;text-align:center;font-style:normal;letter-spacing:0;">5</i><i style="display:inline-block;width:9px;text-align:center;font-style:normal;letter-spacing:0;">8</i><i style="display:inline-block;width:9px;text-align:center;font-style:normal;letter-spacing:0;">,</i><i style="display:inline-block;width:9px;text-align:center;font-style:normal;letter-spacing:0;">1</i><i style="display:inline-block;width:9px;text-align:center;font-style:normal;letter-spacing:0;">7</i><i style="display:inline-block;width:9px;text-align:center;font-style:normal;letter-spacing:0;">7</i><i style="display:inline-block;width:9px;text-align:center;font-style:normal;letter-spacing:0;">.</i><i style="display:inline-block;width:9px;text-align:center;font-style:normal;letter-spacing:0;">2</i><i style="display:inline-block;width:9px;text-align:center;font-style:normal;letter-spacing:0;">7</i></div>
<div style="position:absolute;left:695.0px;top:538.8px;font-family:'Liberation Serif', serif;font-size:19px;line-height:1;white-space:pre;font-weight:normal;color:#222;letter-spacing:0px;"><i style="display:inline-block;width:9px;text-align:center;font-style:normal;letter-spacing:0;">2</i><i style="display:inline-block;width:9px;text-align:center;font-style:normal;letter-spacing:0;">,</i><i style="display:inline-block;width:9px;text-align:center;font-style:normal;letter-spacing:0;">5</i><i style="display:inline-block;width:9px;text-align:center;font-style:normal;letter-spacing:0;">4</i><i style="display:inline-block;width:9px;text-align:center;font-style:normal;letter-spacing:0;">4</i></div>
<div style="position:absolute;left:812.0px;top:534.3px;font-family:'Liberation Serif', serif;font-size:19px;line-height:1;white-space:pre;font-weight:normal;color:#222;letter-spacing:0px;"><i style="display:inline-block;width:9px;text-align:center;font-style:normal;letter-spacing:0;">5</i><i style="display:inline-block;width:9px;text-align:center;font-style:normal;letter-spacing:0;">8</i><i style="display:inline-block;width:9px;text-align:center;font-style:normal;letter-spacing:0;">,</i><i style="display:inline-block;width:9px;text-align:center;font-style:normal;letter-spacing:0;">1</i><i style="display:inline-block;width:9px;text-align:center;font-style:normal;letter-spacing:0;">7</i><i style="display:inline-block;width:9px;text-align:center;font-style:normal;letter-spacing:0;">9</i><i style="display:inline-block;width:9px;text-align:center;font-style:normal;letter-spacing:0;">.</i><i style="display:inline-block;width:9px;text-align:center;font-style:normal;letter-spacing:0;">1</i><i style="display:inline-block;width:9px;text-align:center;font-style:normal;letter-spacing:0;">3</i></div>
<div style="position:absolute;left:939.0px;top:534.3px;font-family:'Liberation Serif', serif;font-size:19px;line-height:1;white-space:pre;font-weight:normal;color:#222;letter-spacing:0px;"><i style="display:inline-block;width:9px;text-align:center;font-style:normal;letter-spacing:0;">6</i><i style="display:inline-block;width:9px;text-align:center;font-style:normal;letter-spacing:0;">5</i><i style="display:inline-block;width:9px;text-align:center;font-style:normal;letter-spacing:0;">,</i><i style="display:inline-block;width:9px;text-align:center;font-style:normal;letter-spacing:0;">9</i><i style="display:inline-block;width:9px;text-align:center;font-style:normal;letter-spacing:0;">3</i><i style="display:inline-block;width:9px;text-align:center;font-style:normal;letter-spacing:0;">3</i><i style="display:inline-block;width:9px;text-align:center;font-style:normal;letter-spacing:0;">.</i><i style="display:inline-block;width:9px;text-align:center;font-style:normal;letter-spacing:0;">6</i><i style="display:inline-block;width:9px;text-align:center;font-style:normal;letter-spacing:0;">7</i></div>
<div style="position:absolute;left:311.5px;top:578.0px;font-family:'Liberation Serif', serif;font-size:19px;line-height:1;white-space:pre;font-weight:normal;color:#222;letter-spacing:0px;"><i style="display:inline-block;width:9px;text-align:center;font-style:normal;letter-spacing:0;">3</i><i style="display:inline-block;width:9px;text-align:center;font-style:normal;letter-spacing:0;">7</i><i style="display:inline-block;width:9px;text-align:center;font-style:normal;letter-spacing:0;">1</i></div>
<div style="position:absolute;left:410.5px;top:574.0px;font-family:'Liberation Serif', serif;font-size:19px;line-height:1;white-space:pre;font-weight:normal;color:#222;letter-spacing:0px;"><i style="display:inline-block;width:9px;text-align:center;font-style:normal;letter-spacing:0;">1</i><i style="display:inline-block;width:9px;text-align:center;font-style:normal;letter-spacing:0;">3</i><i style="display:inline-block;width:9px;text-align:center;font-style:normal;letter-spacing:0;">4</i><i style="display:inline-block;width:9px;text-align:center;font-style:normal;letter-spacing:0;">,</i><i style="display:inline-block;width:9px;text-align:center;font-style:normal;letter-spacing:0;">7</i><i style="display:inline-block;width:9px;text-align:center;font-style:normal;letter-spacing:0;">9</i><i style="display:inline-block;width:9px;text-align:center;font-style:normal;letter-spacing:0;">0</i><i style="display:inline-block;width:9px;text-align:center;font-style:normal;letter-spacing:0;">.</i><i style="display:inline-block;width:9px;text-align:center;font-style:normal;letter-spacing:0;">6</i><i style="display:inline-block;width:9px;text-align:center;font-style:normal;letter-spacing:0;">1</i></div>
<div style="position:absolute;left:538.0px;top:574.0px;font-family:'Liberation Serif', serif;font-size:19px;line-height:1;white-space:pre;font-weight:normal;color:#222;letter-spacing:0px;"><i style="display:inline-block;width:9px;text-align:center;font-style:normal;letter-spacing:0;">1</i><i style="display:inline-block;width:9px;text-align:center;font-style:normal;letter-spacing:0;">3</i><i style="display:inline-block;width:9px;text-align:center;font-style:normal;letter-spacing:0;">4</i><i style="display:inline-block;width:9px;text-align:center;font-style:normal;letter-spacing:0;">,</i><i style="display:inline-block;width:9px;text-align:center;font-style:normal;letter-spacing:0;">7</i><i style="display:inline-block;width:9px;text-align:center;font-style:normal;letter-spacing:0;">2</i><i style="display:inline-block;width:9px;text-align:center;font-style:normal;letter-spacing:0;">4</i><i style="display:inline-block;width:9px;text-align:center;font-style:normal;letter-spacing:0;">.</i><i style="display:inline-block;width:9px;text-align:center;font-style:normal;letter-spacing:0;">6</i><i style="display:inline-block;width:9px;text-align:center;font-style:normal;letter-spacing:0;">3</i></div>
<div style="position:absolute;left:704.5px;top:578.0px;font-family:'Liberation Serif', serif;font-size:19px;line-height:1;white-space:pre;font-weight:normal;color:#222;letter-spacing:0px;"><i style="display:inline-block;width:9px;text-align:center;font-style:normal;letter-spacing:0;">3</i><i style="display:inline-block;width:9px;text-align:center;font-style:normal;letter-spacing:0;">7</i><i style="display:inline-block;width:9px;text-align:center;font-style:normal;letter-spacing:0;">1</i></div>
<div style="position:absolute;left:807.0px;top:574.0px;font-family:'Liberation Serif', serif;font-size:19px;line-height:1;white-space:pre;font-weight:normal;color:#222;letter-spacing:0px;"><i style="display:inline-block;width:9px;text-align:center;font-style:normal;letter-spacing:0;">1</i><i style="display:inline-block;width:9px;text-align:center;font-style:normal;letter-spacing:0;">3</i><i style="display:inline-block;width:9px;text-align:center;font-style:normal;letter-spacing:0;">0</i><i style="display:inline-block;width:9px;text-align:center;font-style:normal;letter-spacing:0;">,</i><i style="display:inline-block;width:9px;text-align:center;font-style:normal;letter-spacing:0;">3</i><i style="display:inline-block;width:9px;text-align:center;font-style:normal;letter-spacing:0;">6</i><i style="display:inline-block;width:9px;text-align:center;font-style:normal;letter-spacing:0;">9</i><i style="display:inline-block;width:9px;text-align:center;font-style:normal;letter-spacing:0;">.</i><i style="display:inline-block;width:9px;text-align:center;font-style:normal;letter-spacing:0;">6</i><i style="display:inline-block;width:9px;text-align:center;font-style:normal;letter-spacing:0;">9</i></div>
<div style="position:absolute;left:934.0px;top:574.0px;font-family:'Liberation Serif', serif;font-size:19px;line-height:1;white-space:pre;font-weight:normal;color:#222;letter-spacing:0px;"><i style="display:inline-block;width:9px;text-align:center;font-style:normal;letter-spacing:0;">1</i><i style="display:inline-block;width:9px;text-align:center;font-style:normal;letter-spacing:0;">3</i><i style="display:inline-block;width:9px;text-align:center;font-style:normal;letter-spacing:0;">0</i><i style="display:inline-block;width:9px;text-align:center;font-style:normal;letter-spacing:0;">,</i><i style="display:inline-block;width:9px;text-align:center;font-style:normal;letter-spacing:0;">3</i><i style="display:inline-block;width:9px;text-align:center;font-style:normal;letter-spacing:0;">3</i><i style="display:inline-block;width:9px;text-align:center;font-style:normal;letter-spacing:0;">4</i><i style="display:inline-block;width:9px;text-align:center;font-style:normal;letter-spacing:0;">.</i><i style="display:inline-block;width:9px;text-align:center;font-style:normal;letter-spacing:0;">7</i><i style="display:inline-block;width:9px;text-align:center;font-style:normal;letter-spacing:0;">6</i></div>
<div style="position:absolute;left:311.0px;top:617.0px;font-family:'Liberation Serif', serif;font-size:19px;line-height:1;white-space:pre;font-weight:normal;color:#222;letter-spacing:0px;"><i style="display:inline-block;width:9px;text-align:center;font-style:normal;letter-spacing:0;">3</i><i style="display:inline-block;width:9px;text-align:center;font-style:normal;letter-spacing:0;">0</i><i style="display:inline-block;width:9px;text-align:center;font-style:normal;letter-spacing:0;">7</i></div>
<div style="position:absolute;left:419.5px;top:614.0px;font-family:'Liberation Serif', serif;font-size:19px;line-height:1;white-space:pre;font-weight:normal;color:#222;letter-spacing:0px;"><i style="display:inline-block;width:9px;text-align:center;font-style:normal;letter-spacing:0;">5</i><i style="display:inline-block;width:9px;text-align:center;font-style:normal;letter-spacing:0;">,</i><i style="display:inline-block;width:9px;text-align:center;font-style:normal;letter-spacing:0;">6</i><i style="display:inline-block;width:9px;text-align:center;font-style:normal;letter-spacing:0;">0</i><i style="display:inline-block;width:9px;text-align:center;font-style:normal;letter-spacing:0;">3</i><i style="display:inline-block;width:9px;text-align:center;font-style:normal;letter-spacing:0;">.</i><i style="display:inline-block;width:9px;text-align:center;font-style:normal;letter-spacing:0;">1</i><i style="display:inline-block;width:9px;text-align:center;font-style:normal;letter-spacing:0;">2</i></div>
<div style="position:absolute;left:547.5px;top:614.0px;font-family:'Liberation Serif', serif;font-size:19px;line-height:1;white-space:pre;font-weight:normal;color:#222;letter-spacing:0px;"><i style="display:inline-block;width:9px;text-align:center;font-style:normal;letter-spacing:0;">5</i><i style="display:inline-block;width:9px;text-align:center;font-style:normal;letter-spacing:0;">,</i><i style="display:inline-block;width:9px;text-align:center;font-style:normal;letter-spacing:0;">6</i><i style="display:inline-block;width:9px;text-align:center;font-style:normal;letter-spacing:0;">3</i><i style="display:inline-block;width:9px;text-align:center;font-style:normal;letter-spacing:0;">2</i><i style="display:inline-block;width:9px;text-align:center;font-style:normal;letter-spacing:0;">.</i><i style="display:inline-block;width:9px;text-align:center;font-style:normal;letter-spacing:0;">1</i><i style="display:inline-block;width:9px;text-align:center;font-style:normal;letter-spacing:0;">5</i></div>
<div style="position:absolute;left:704.0px;top:617.0px;font-family:'Liberation Serif', serif;font-size:19px;line-height:1;white-space:pre;font-weight:normal;color:#222;letter-spacing:0px;"><i style="display:inline-block;width:9px;text-align:center;font-style:normal;letter-spacing:0;">3</i><i style="display:inline-block;width:9px;text-align:center;font-style:normal;letter-spacing:0;">0</i><i style="display:inline-block;width:9px;text-align:center;font-style:normal;letter-spacing:0;">5</i></div>
<div style="position:absolute;left:816.5px;top:614.0px;font-family:'Liberation Serif', serif;font-size:19px;line-height:1;white-space:pre;font-weight:normal;color:#222;letter-spacing:0px;"><i style="display:inline-block;width:9px;text-align:center;font-style:normal;letter-spacing:0;">5</i><i style="display:inline-block;width:9px;text-align:center;font-style:normal;letter-spacing:0;">,</i><i style="display:inline-block;width:9px;text-align:center;font-style:normal;letter-spacing:0;">7</i><i style="display:inline-block;width:9px;text-align:center;font-style:normal;letter-spacing:0;">8</i><i style="display:inline-block;width:9px;text-align:center;font-style:normal;letter-spacing:0;">2</i><i style="display:inline-block;width:9px;text-align:center;font-style:normal;letter-spacing:0;">.</i><i style="display:inline-block;width:9px;text-align:center;font-style:normal;letter-spacing:0;">4</i><i style="display:inline-block;width:9px;text-align:center;font-style:normal;letter-spacing:0;">9</i></div>
<div style="position:absolute;left:943.5px;top:614.0px;font-family:'Liberation Serif', serif;font-size:19px;line-height:1;white-space:pre;font-weight:normal;color:#222;letter-spacing:0px;"><i style="display:inline-block;width:9px;text-align:center;font-style:normal;letter-spacing:0;">5</i><i style="display:inline-block;width:9px;text-align:center;font-style:normal;letter-spacing:0;">,</i><i style="display:inline-block;width:9px;text-align:center;font-style:normal;letter-spacing:0;">9</i><i style="display:inline-block;width:9px;text-align:center;font-style:normal;letter-spacing:0;">4</i><i style="display:inline-block;width:9px;text-align:center;font-style:normal;letter-spacing:0;">4</i><i style="display:inline-block;width:9px;text-align:center;font-style:normal;letter-spacing:0;">.</i><i style="display:inline-block;width:9px;text-align:center;font-style:normal;letter-spacing:0;">5</i><i style="display:inline-block;width:9px;text-align:center;font-style:normal;letter-spacing:0;">7</i></div>
<div style="position:absolute;left:297.5px;top:652.0px;font-family:'Liberation Serif', serif;font-size:19px;line-height:1;white-space:pre;font-weight:bold;color:#000;letter-spacing:0px;"><i style="display:inline-block;width:9px;text-align:center;font-style:normal;letter-spacing:0;">1</i><i style="display:inline-block;width:9px;text-align:center;font-style:normal;letter-spacing:0;">2</i><i style="display:inline-block;width:9px;text-align:center;font-style:normal;letter-spacing:0;">,</i><i style="display:inline-block;width:9px;text-align:center;font-style:normal;letter-spacing:0;">2</i><i style="display:inline-block;width:9px;text-align:center;font-style:normal;letter-spacing:0;">1</i><i style="display:inline-block;width:9px;text-align:center;font-style:normal;letter-spacing:0;">2</i></div>
<div style="position:absolute;left:410.5px;top:652.0px;font-family:'Liberation Serif', serif;font-size:19px;line-height:1;white-space:pre;font-weight:bold;color:#000;letter-spacing:0px;"><i style="display:inline-block;width:9px;text-align:center;font-style:normal;letter-spacing:0;">2</i><i style="display:inline-block;width:9px;text-align:center;font-style:normal;letter-spacing:0;">8</i><i style="display:inline-block;width:9px;text-align:center;font-style:normal;letter-spacing:0;">9</i><i style="display:inline-block;width:9px;text-align:center;font-style:normal;letter-spacing:0;">,</i><i style="display:inline-block;width:9px;text-align:center;font-style:normal;letter-spacing:0;">3</i><i style="display:inline-block;width:9px;text-align:center;font-style:normal;letter-spacing:0;">2</i><i style="display:inline-block;width:9px;text-align:center;font-style:normal;letter-spacing:0;">7</i><i style="display:inline-block;width:9px;text-align:center;font-style:normal;letter-spacing:0;">.</i><i style="display:inline-block;width:9px;text-align:center;font-style:normal;letter-spacing:0;">9</i><i style="display:inline-block;width:9px;text-align:center;font-style:normal;letter-spacing:0;">4</i></div>
<div style="position:absolute;left:538.5px;top:652.0px;font-family:'Liberation Serif', serif;font-size:19px;line-height:1;white-space:pre;font-weight:bold;color:#000;letter-spacing:0px;"><i style="display:inline-block;width:9px;text-align:center;font-style:normal;letter-spacing:0;">3</i><i style="display:inline-block;width:9px;text-align:center;font-style:normal;letter-spacing:0;">1</i><i style="display:inline-block;width:9px;text-align:center;font-style:normal;letter-spacing:0;">5</i><i style="display:inline-block;width:9px;text-align:center;font-style:normal;letter-spacing:0;">,</i><i style="display:inline-block;width:9px;text-align:center;font-style:normal;letter-spacing:0;">0</i><i style="display:inline-block;width:9px;text-align:center;font-style:normal;letter-spacing:0;">8</i><i style="display:inline-block;width:9px;text-align:center;font-style:normal;letter-spacing:0;">5</i><i style="display:inline-block;width:9px;text-align:center;font-style:normal;letter-spacing:0;">.</i><i style="display:inline-block;width:9px;text-align:center;font-style:normal;letter-spacing:0;">1</i><i style="display:inline-block;width:9px;text-align:center;font-style:normal;letter-spacing:0;">0</i></div>
<div style="position:absolute;left:690.5px;top:652.0px;font-family:'Liberation Serif', serif;font-size:19px;line-height:1;white-space:pre;font-weight:bold;color:#000;letter-spacing:0px;"><i style="display:inline-block;width:9px;text-align:center;font-style:normal;letter-spacing:0;">1</i><i style="display:inline-block;width:9px;text-align:center;font-style:normal;letter-spacing:0;">2</i><i style="display:inline-block;width:9px;text-align:center;font-style:normal;letter-spacing:0;">,</i><i style="display:inline-block;width:9px;text-align:center;font-style:normal;letter-spacing:0;">1</i><i style="display:inline-block;width:9px;text-align:center;font-style:normal;letter-spacing:0;">7</i><i style="display:inline-block;width:9px;text-align:center;font-style:normal;letter-spacing:0;">5</i></div>
<div style="position:absolute;left:807.5px;top:652.0px;font-family:'Liberation Serif', serif;font-size:19px;line-height:1;white-space:pre;font-weight:bold;color:#000;letter-spacing:0px;"><i style="display:inline-block;width:9px;text-align:center;font-style:normal;letter-spacing:0;">2</i><i style="display:inline-block;width:9px;text-align:center;font-style:normal;letter-spacing:0;">9</i><i style="display:inline-block;width:9px;text-align:center;font-style:normal;letter-spacing:0;">2</i><i style="display:inline-block;width:9px;text-align:center;font-style:normal;letter-spacing:0;">,</i><i style="display:inline-block;width:9px;text-align:center;font-style:normal;letter-spacing:0;">8</i><i style="display:inline-block;width:9px;text-align:center;font-style:normal;letter-spacing:0;">8</i><i style="display:inline-block;width:9px;text-align:center;font-style:normal;letter-spacing:0;">6</i><i style="display:inline-block;width:9px;text-align:center;font-style:normal;letter-spacing:0;">.</i><i style="display:inline-block;width:9px;text-align:center;font-style:normal;letter-spacing:0;">4</i><i style="display:inline-block;width:9px;text-align:center;font-style:normal;letter-spacing:0;">5</i></div>
<div style="position:absolute;left:934.5px;top:652.0px;font-family:'Liberation Serif', serif;font-size:19px;line-height:1;white-space:pre;font-weight:bold;color:#000;letter-spacing:0px;"><i style="display:inline-block;width:9px;text-align:center;font-style:normal;letter-spacing:0;">3</i><i style="display:inline-block;width:9px;text-align:center;font-style:normal;letter-spacing:0;">2</i><i style="display:inline-block;width:9px;text-align:center;font-style:normal;letter-spacing:0;">0</i><i style="display:inline-block;width:9px;text-align:center;font-style:normal;letter-spacing:0;">,</i><i style="display:inline-block;width:9px;text-align:center;font-style:normal;letter-spacing:0;">6</i><i style="display:inline-block;width:9px;text-align:center;font-style:normal;letter-spacing:0;">8</i><i style="display:inline-block;width:9px;text-align:center;font-style:normal;letter-spacing:0;">1</i><i style="display:inline-block;width:9px;text-align:center;font-style:normal;letter-spacing:0;">.</i><i style="display:inline-block;width:9px;text-align:center;font-style:normal;letter-spacing:0;">9</i><i style="display:inline-block;width:9px;text-align:center;font-style:normal;letter-spacing:0;">9</i></div>
<svg style="position:absolute;left:995px;top:666px" width="80" height="28" viewBox="0 0 80 28">
<defs><filter id="sh" x="-20%" y="-20%" width="140%" height="140%"><feDropShadow dx="0.6" dy="0.8" stdDeviation="0.6" flood-color="#666" flood-opacity="1"/></filter></defs>
<g filter="url(#sh)" fill="none" stroke="#fff" stroke-width="2.2">
<rect x="5" y="4.5" width="18.5" height="17.5" rx="3"/>
<path d="M18 9 H10 V17.5 H17 V13.5 H14"/>
</g>
<g filter="url(#sh)"><text x="28" y="20.5" font-family="'Liberation Sans', sans-serif" font-size="15.5" font-weight="normal" fill="#fff" stroke="#fff" stroke-width="0.6" letter-spacing="-0.3">格隆汇</text></g>
</svg>
</body></html>
